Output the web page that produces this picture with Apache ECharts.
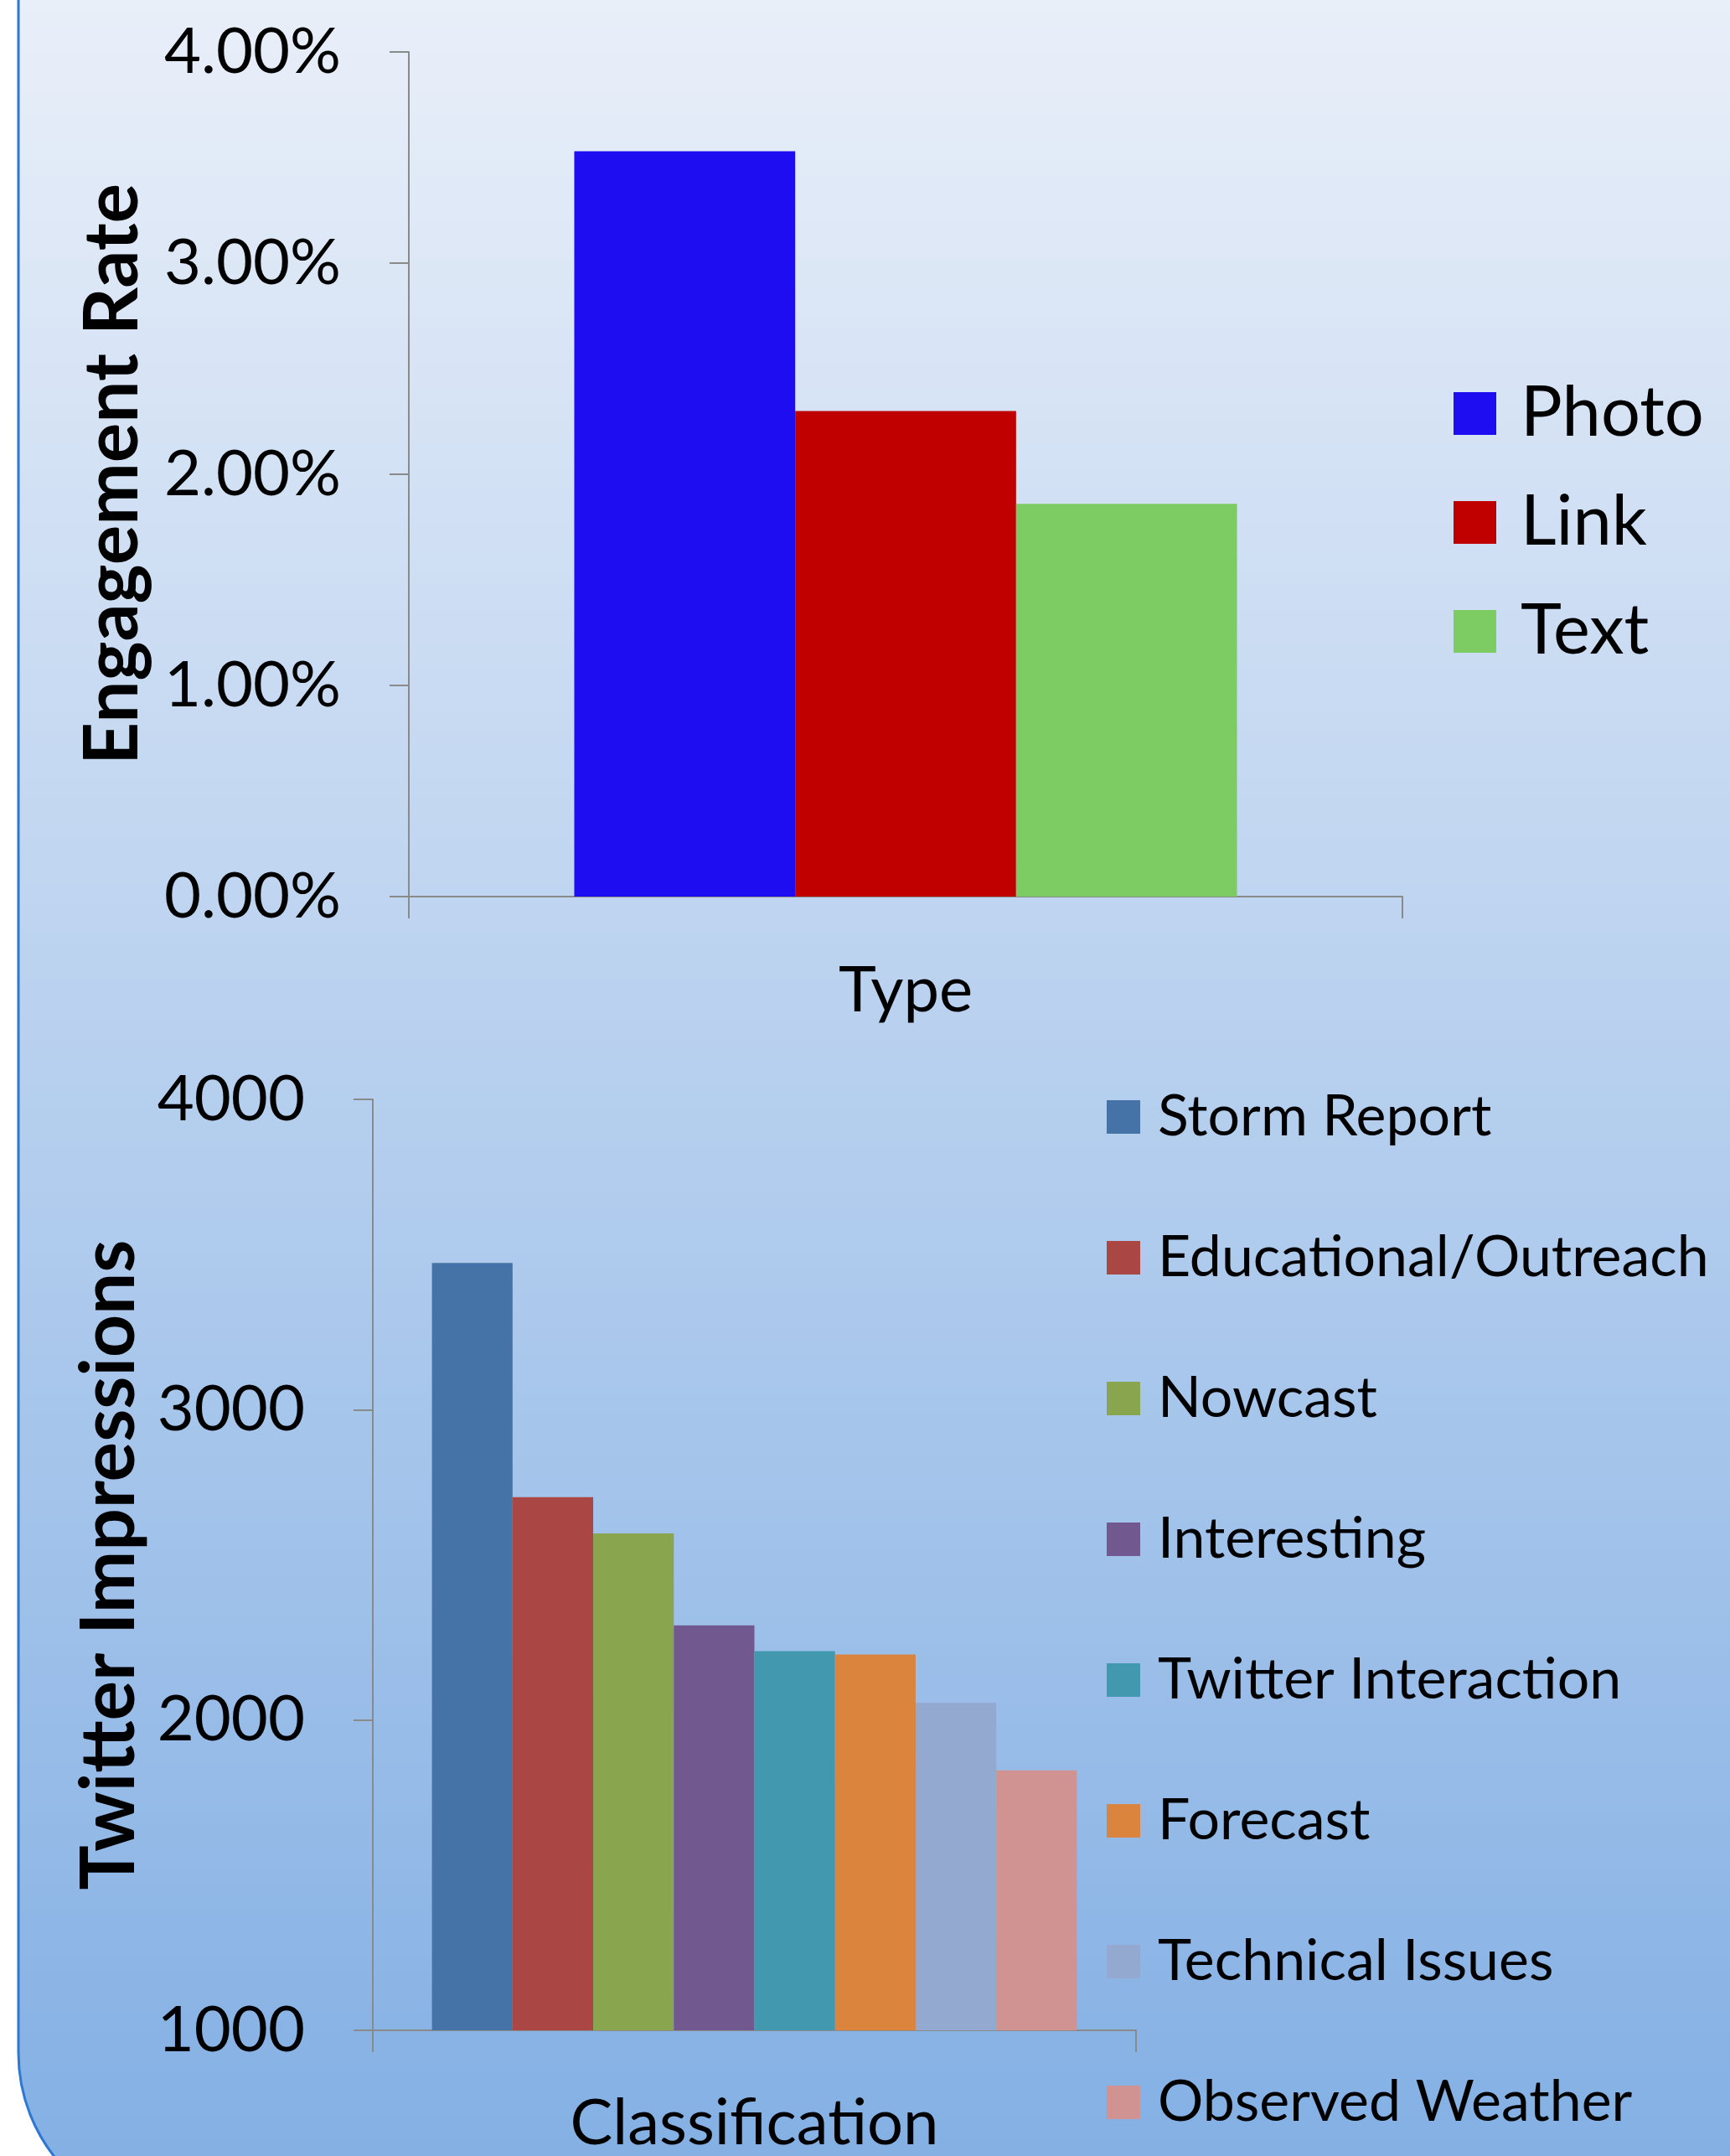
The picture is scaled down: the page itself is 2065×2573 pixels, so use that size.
<!DOCTYPE html>
<html>
<head>
<meta charset="utf-8">
<script src="https://cdn.jsdelivr.net/npm/echarts@6/dist/echarts.min.js"></script>
<style>
  html, body { margin: 0; padding: 0; background: #fff; }
  #main { width: 2065px; height: 2573px; }
</style>
</head>
<body>
<div id="main"></div>
<script>
// top chart: engagement rate by post type
const typeNames = ["Photo", "Link", "Text"];
const typeRates = [3.53, 2.3, 1.86];
const typeColors = ["#1e0df0", "#c00000", "#7dcb63"];
const rateTicks = ["0.00%", "1.00%", "2.00%", "3.00%", "4.00%"];

// bottom chart: twitter impressions by classification
const classNames = [
  "Storm Report",
  "Educational/Outreach",
  "Nowcast",
  "Interesting",
  "Twitter Interaction",
  "Forecast",
  "Technical Issues",
  "Observed Weather",
];
const classImpressions = [3473, 2718, 2601, 2305, 2222, 2211, 2055, 1838];
const classColors = ["#4572a7", "#aa4643", "#89a54e", "#71588f", "#4198af", "#db843d", "#93a9cf", "#d19392"];
const impressionTicks = [1000, 2000, 3000, 4000];

(() => {
  let myChart = echarts.init(document.querySelector("#main"));
  const font = "Lato";
  const axisGray = "#8a8a8a";

  const catAxis = (grid, name, gap) => ({
    type: "category",
    gridIndex: grid,
    data: [""],
    name: name,
    nameLocation: "middle",
    nameGap: gap,
    nameTextStyle: { fontFamily: font, fontSize: 76, color: "#000" },
    axisLine: { lineStyle: { color: axisGray, width: 2 } },
    axisTick: { show: true, length: 26, lineStyle: { color: axisGray, width: 2 } },
    axisLabel: { show: false },
  });

  const valAxis = (grid, name, gap, min, max, fmt) => ({
    type: "value",
    gridIndex: grid,
    min: min,
    max: max,
    interval: grid === 0 ? 1 : 1000,
    name: name,
    nameLocation: "middle",
    nameGap: gap,
    nameTextStyle: { fontFamily: font, fontSize: 89, fontWeight: "bold", color: "#000" },
    axisLine: { show: true, lineStyle: { color: axisGray, width: 2 } },
    axisTick: { show: true, length: 23, lineStyle: { color: axisGray, width: 2 } },
    splitLine: { show: false },
    axisLabel: { margin: 81, fontFamily: font, fontSize: 76, color: "#000", formatter: fmt },
  });

  let series = [];
  typeNames.forEach((n, i) => {
    series.push({
      name: n,
      type: "bar",
      xAxisIndex: 0,
      yAxisIndex: 0,
      data: [typeRates[i]],
      itemStyle: { color: typeColors[i] },
      barGap: "0%",
      barCategoryGap: "33.3%",
    });
  });
  classNames.forEach((n, i) => {
    series.push({
      name: n,
      type: "bar",
      xAxisIndex: 1,
      yAxisIndex: 1,
      data: [classImpressions[i]],
      itemStyle: { color: classColors[i] },
      barGap: "0%",
      barCategoryGap: "15.5%",
    });
  });

  let option = {
    animation: false,
    backgroundColor: "#fff",
    graphic: [
      {
        type: "rect",
        z: -10,
        shape: { x: 22, y: -300, width: 2400, height: 2950, r: 200 },
        style: {
          fill: {
            type: "linear",
            x: 0, y: 0, x2: 0, y2: 2573,
            global: true,
            colorStops: [
              { offset: 0, color: "#e9eff9" },
              { offset: 1, color: "#84b0e4" },
            ],
          },
          stroke: "#2e78d2",
          lineWidth: 3,
        },
      },
    ],
    legend: [
      {
        data: typeNames,
        orient: "vertical",
        left: 1730,
        top: 447,
        icon: "rect",
        itemWidth: 51,
        itemHeight: 51,
        itemGap: 47,
        textStyle: { fontFamily: font, fontSize: 83, color: "#000", padding: [0, 0, 0, 24] },
      },
      {
        data: classNames,
        orient: "vertical",
        left: 1316,
        top: 1294,
        icon: "rect",
        itemWidth: 40,
        itemHeight: 40,
        itemGap: 100,
        textStyle: { fontFamily: font, fontSize: 68, color: "#000", padding: [0, 0, 0, 16] },
      },
    ],
    grid: [
      { left: 488, top: 62, width: 1186, height: 1008 },
      { left: 445, top: 1312, width: 911, height: 1116 },
    ],
    xAxis: [catAxis(0, "Type", 74), catAxis(1, "Classification", 73)],
    yAxis: [
      valAxis(0, "Engagement Rate", 308, 0, rateTicks.length - 1, (v) => rateTicks[Math.round(v)]),
      valAxis(1, "Twitter Impressions", 269, impressionTicks[0], impressionTicks[impressionTicks.length - 1], (v) => String(v)),
    ],
    series: series,
  };
  myChart.setOption(option);
  window.addEventListener("resize", () => {
    myChart.resize();
  });
})();
</script>
</body>
</html>
